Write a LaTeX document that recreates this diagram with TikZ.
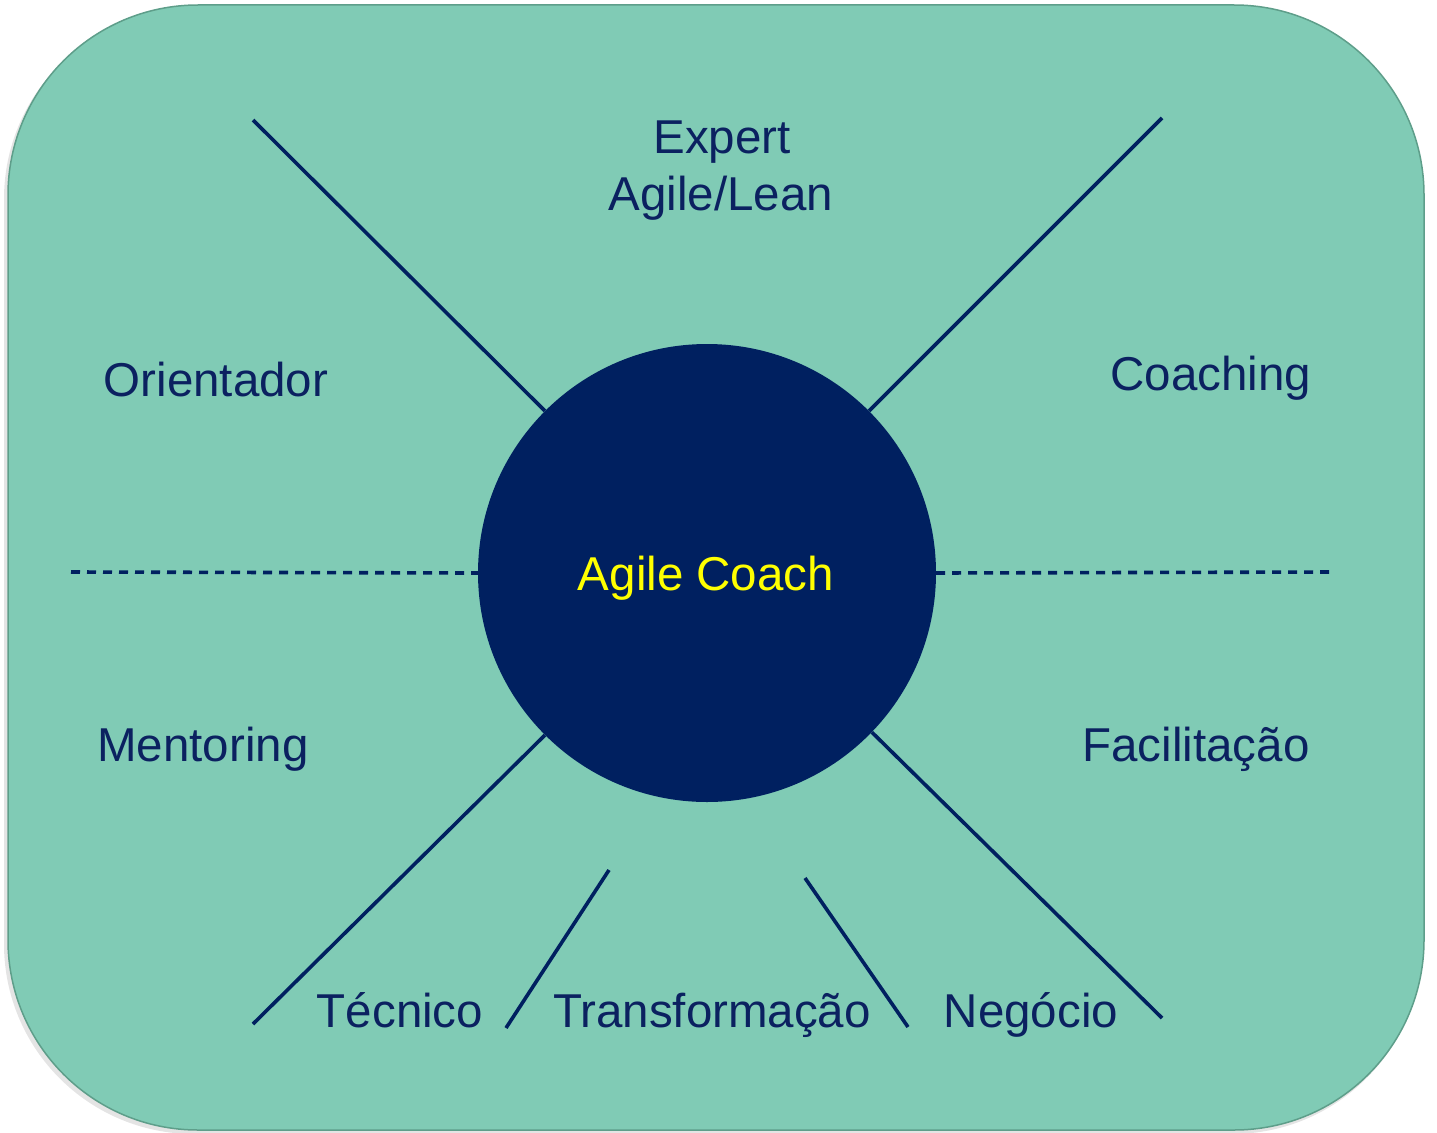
\documentclass[tikz,border=0pt]{standalone}
\usepackage{fontspec}
\setmainfont{Liberation Sans}
\definecolor{bgfill}{HTML}{80CBB5}
\definecolor{bgedge}{HTML}{5E9E8A}
\definecolor{navy}{HTML}{002060}
\definecolor{txt}{HTML}{0B2160}
\definecolor{yel}{HTML}{FFFF00}
\begin{document}
\begin{tikzpicture}[x=1pt,y=-1pt,
  lbl/.style={text=txt,font=\fontsize{47.5}{57}\selectfont,anchor=base,inner sep=0pt,align=center},
  spoke/.style={draw=navy,line width=3.6pt},
  dashspoke/.style={draw=navy,line width=3.6pt,dash pattern=on 9pt off 7pt}]
\useasboundingbox (0,0) rectangle (1437,1132);
\fill[black!35,opacity=0.3,rounded corners=190pt] (4,9) rectangle (1422,1134);
\path[fill=bgfill,draw=bgedge,line width=1.5pt,rounded corners=190pt] (8,5) rectangle (1424,1130);
\node[circle,fill=navy,minimum size=458pt,inner sep=0pt] (c) at (707,573) {};
\node[text=yel,font=\fontsize{47.5}{57}\selectfont,inner sep=0pt,anchor=base] (ac) at (706,590) {Agile Coach};
\coordinate (tl) at (253,120);
\coordinate (tr) at (1162,118);
\coordinate (bl) at (253,1024);
\coordinate (br) at (1162,1018);
\coordinate (dl) at (71,572);
\coordinate (dr) at (1330,572);
\coordinate (t1a) at (506,1028);
\coordinate (t1b) at (609,870);
\coordinate (t2a) at (805,878);
\coordinate (t2b) at (908,1027);
\draw[spoke] (tl) -- (c.135);
\draw[spoke] (tr) -- (c.45);
\draw[spoke] (bl) -- (c.225);
\draw[spoke] (br) -- (c.-44);
\draw[spoke] (t1a) -- (t1b);
\draw[spoke] (t2a) -- (t2b);
\draw[dashspoke] (dl) -- (c.west);
\draw[dashspoke] (c.east) -- (dr);
\node[lbl] (exp) at (722,153) {Expert};
\node[lbl] (agl) at (721,210) {Agile/Lean};
\node[lbl] (ori) at (216,396) {Orientador};
\node[lbl] (coa) at (1211,390) {Coaching};
\node[lbl] (men) at (203,761) {Mentoring};
\node[lbl] (fac) at (1196,761) {Facilita\c{c}\~ao};
\node[lbl] (tec) at (400,1027) {T\'ecnico};
\node[lbl] (tra) at (712,1027) {Transforma\c{c}\~ao};
\node[lbl] (neg) at (1031,1027) {Neg\'ocio};
\end{tikzpicture}
\end{document}
